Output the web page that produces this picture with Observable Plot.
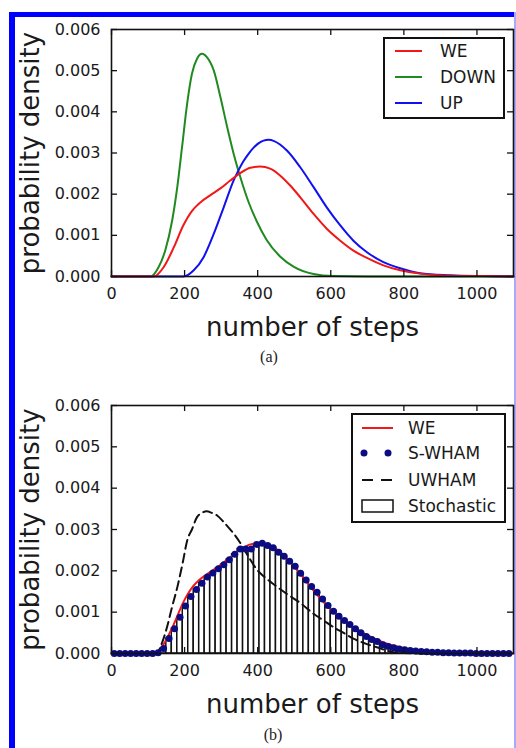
<!DOCTYPE html>
<html>
<head>
<meta charset="utf-8">
<script src="https://cdn.jsdelivr.net/npm/d3@7"></script>
<script src="https://cdn.jsdelivr.net/npm/@observablehq/plot@0.6"></script>
<style>
  body { margin: 0; background: #fff; }
  #page { position: relative; width: 516px; height: 748px; overflow: hidden; font-family: "DejaVu Sans", sans-serif; background: #fff; }
  .panel { position: absolute; left: 0; }
  .panel svg { overflow: visible; }
  [aria-label="x-axis label"], [aria-label="y-axis label"] { font-size: 26px; }
  .bar { position: absolute; background: #0000ff; }
  .legend { position: absolute; box-sizing: border-box; border: 2px solid #111; background: #fff; }
  .legend svg { position: absolute; left: -2px; top: -2px; overflow: visible; }
  .cap { position: absolute; font-family: "Liberation Serif", "DejaVu Serif", serif; font-size: 16px; color: #222; transform: translate(-50%, -50%); }
</style>
</head>
<body>
<div id="page">
  <div class="bar" style="left:9px;top:12px;width:507px;height:5px"></div>
  <div class="bar" style="left:9px;top:12px;width:6px;height:736px"></div>
  <div class="bar" style="left:514px;top:12px;width:2px;height:736px;background:#a8a8ff"></div>
  <div id="panelA" class="panel" style="top:0px"></div>
  <div id="panelB" class="panel" style="top:376px"></div>
  <div class="cap" style="left:269px;top:357px">(a)</div>
  <div class="cap" style="left:273px;top:735px">(b)</div>
</div>
<script>
// ---------- data ----------
const xTicks = [0, 200, 400, 600, 800, 1000];
const yTicks = [0, 0.001, 0.002, 0.003, 0.004, 0.005, 0.006];
const xLabel = "number of steps";
const yLabel = "probability density";

// panel (a)
const weSteps   = [0,100,116,143,170,197,220,232,243,270,298,325,352,380,407,434,462,489,516,553,589,626,662,699,744,790,844,926,1017,1100];
const weDensity = [0,0,0,0.00023,0.0007,0.00125,0.00159,0.00171,0.0018,0.00197,0.00214,0.00233,0.00251,0.00264,0.00267,0.00262,0.00245,0.00221,0.00193,0.00152,0.00116,0.00087,0.00063,0.00045,0.00027,0.00015,0.00007,0.00002,0.00001,0];

const downSteps   = [0,100,107,129,147,166,180,193,207,220,234,248,261,280,298,316,334,352,375,398,425,462,498,553,607,700,1100];
const downDensity = [0,0,0,0.00023,0.00063,0.00136,0.00217,0.00314,0.0042,0.00492,0.00529,0.00541,0.00533,0.005,0.00436,0.00365,0.00299,0.00243,0.00181,0.00133,0.00088,0.00048,0.00024,0.00006,0.00001,0,0];

const upSteps   = [0,190,197,225,252,280,307,334,348,361,375,389,403,416,430,445,480,516,553,589,626,662,699,744,790,844,926,1017,1100];
const upDensity = [0,0,0,0.00015,0.00047,0.00104,0.00168,0.00233,0.00259,0.0028,0.00298,0.00313,0.00324,0.0033,0.00332,0.00329,0.00306,0.00266,0.00217,0.00168,0.00124,0.00087,0.00059,0.00035,0.0002,0.00008,0.00003,0.00001,0];

// panel (b)
const uwhamSteps   = [0,110,122,140,152,165,180,195,207,220,234,247,260,275,289,305,321,337,352,375,398,420,440,480,520,553,580,607,635,662,695,726,762,800,900,1100];
const uwhamDensity = [0,0,0,0.0003,0.00064,0.0011,0.0016,0.0022,0.00273,0.0030,0.0033,0.0034,0.00344,0.0034,0.00334,0.0032,0.00304,0.00287,0.00268,0.00234,0.00203,0.00184,0.0017,0.00144,0.0012,0.00096,0.0008,0.00064,0.0005,0.00036,0.00024,0.00015,0.00005,0.00001,0,0];

const binStart = [0,15,30,45,60,75,90,105,120,135,150,165,180,195,210,225,240,255,270,285,300,315,330,345,360,375,390,405,420,435,450,465,480,495,510,525,540,555,570,585,600,615,630,645,660,675,690,705,720,735,750,765,780,795,810,825,840,855,870,885,900,915,930,945,960,975,990,1005,1020,1035,1050,1065,1080];
const binEnd   = [15,30,45,60,75,90,105,120,135,150,165,180,195,210,225,240,255,270,285,300,315,330,345,360,375,390,405,420,435,450,465,480,495,510,525,540,555,570,585,600,615,630,645,660,675,690,705,720,735,750,765,780,795,810,825,840,855,870,885,900,915,930,945,960,975,990,1005,1020,1035,1050,1065,1080,1095];
const stochastic = [0,0,0,0,0,0,0,0,0.00002,0.00012,0.00036,0.0006,0.00088,0.00115,0.00138,0.00155,0.0017,0.00185,0.00195,0.00205,0.00215,0.00227,0.0024,0.00253,0.00253,0.00253,0.00264,0.00267,0.00261,0.00256,0.00245,0.00235,0.00223,0.00211,0.00194,0.00178,0.00162,0.00148,0.00132,0.00116,0.00102,0.0009,0.0008,0.0007,0.0006,0.0005,0.00041,0.00034,0.00029,0.00021,0.00017,0.00014,0.00011,0.00009,0.00007,0.00006,0.00005,0.00004,0.00003,0.00003,0.00002,0.00002,0.00001,0.00001,0.00001,0.00001,0,0,0,0,0,0,0];
const swham = stochastic;

const seriesA = ["WE", "DOWN", "UP"];
const colorsA = ["#f01818", "#1f8a1f", "#1010f0"];
const seriesB = ["WE", "S-WHAM", "UWHAM", "Stochastic"];

// ---------- helpers ----------
const zip = (xs, ys) => xs.map((x, i) => ({x, y: ys[i]}));
const W = 516, H = 345, ML = 111, MR = 3, MT = 29, TICK = 6;

function axes(mb) {
  const fw = W - ML - MR, fh = H - MT - mb;
  return [
    Plot.ruleX(xTicks, {x: d => d, insetTop: fh - TICK, stroke: "#111", strokeWidth: 1.3}),
    Plot.ruleX(xTicks, {x: d => d, insetBottom: fh - TICK, stroke: "#111", strokeWidth: 1.3}),
    Plot.ruleY(yTicks, {y: d => d, insetRight: fw - TICK, stroke: "#111", strokeWidth: 1.3}),
    Plot.ruleY(yTicks, {y: d => d, insetLeft: fw - TICK, stroke: "#111", strokeWidth: 1.3}),
    Plot.frame({stroke: "#111", strokeWidth: 1.6}),
    Plot.axisX({anchor: "bottom", ticks: xTicks, tickSize: 0, tickPadding: 11, tickFormat: "d",
      label: xLabel, labelAnchor: "center", labelArrow: "none", labelOffset: 59}),
    Plot.axisY({anchor: "left", ticks: yTicks, tickSize: 0, tickPadding: 11, tickFormat: ".3f",
      label: yLabel, labelAnchor: "center", labelArrow: "none", labelOffset: 91})
  ];
}

const common = {
  width: W, height: H, marginTop: MT, marginLeft: ML, marginRight: MR,
  style: {fontFamily: "DejaVu Sans", fontSize: "16px", color: "#1a1a1a", background: "transparent"},
  x: {domain: [0, 1100]},
  y: {domain: [0, 0.006]}
};

// ---------- panel (a) ----------
const plotA = Plot.plot({
  ...common,
  marginBottom: 69,
  marks: [
    Plot.line(zip(downSteps, downDensity), {x: "x", y: "y", stroke: colorsA[1], strokeWidth: 2, curve: "monotone-x"}),
    Plot.line(zip(upSteps, upDensity), {x: "x", y: "y", stroke: colorsA[2], strokeWidth: 2, curve: "monotone-x"}),
    Plot.line(zip(weSteps, weDensity), {x: "x", y: "y", stroke: colorsA[0], strokeWidth: 2, curve: "monotone-x"}),
    ...axes(69)
  ]
});
document.getElementById("panelA").appendChild(plotA);

// ---------- panel (b) ----------
const bins = binStart.map((s, i) => ({x1: s, x2: binEnd[i], y: stochastic[i], xc: (s + binEnd[i]) / 2, s: swham[i]}));
const plotB = Plot.plot({
  ...common,
  marginBottom: 68,
  marks: [
    Plot.rectY(bins.filter(d => d.y > 0), {x1: "x1", x2: "x2", y: "y", fill: "white", stroke: "#111", strokeWidth: 1.5}),
    Plot.line(zip(weSteps, weDensity), {x: "x", y: "y", stroke: "#f01818", strokeWidth: 2, curve: "monotone-x"}),
    Plot.line(zip(uwhamSteps, uwhamDensity), {x: "x", y: "y", stroke: "#111", strokeWidth: 2, strokeDasharray: "9,5", curve: "monotone-x"}),
    Plot.dot(bins, {x: "xc", y: "s", r: 3.5, fill: "#0c0c82", stroke: "none"}),
    ...axes(68)
  ]
});
document.getElementById("panelB").appendChild(plotB);

// ---------- legends ----------
const NS = "http://www.w3.org/2000/svg";
function el(tag, attrs, parent) {
  const e = document.createElementNS(NS, tag);
  for (const k in attrs) e.setAttribute(k, attrs[k]);
  parent.appendChild(e);
  return e;
}
function legend(left, top, w, h, rows, draw) {
  const div = document.createElement("div");
  div.className = "legend";
  Object.assign(div.style, {left: left + "px", top: top + "px", width: w + "px", height: h + "px"});
  const svg = el("svg", {width: w, height: h}, div);
  rows.forEach((r, i) => draw(svg, r, i));
  document.getElementById("page").appendChild(div);
}

// legend (a)
legend(383, 37, 122, 82, seriesA, (svg, name, i) => {
  const y = 14 + i * 26;
  el("line", {x1: 12, x2: 39, y1: y, y2: y, stroke: colorsA[i], "stroke-width": 2}, svg);
  const t = el("text", {x: 57, y: y, "dominant-baseline": "central", "font-family": "DejaVu Sans", "font-size": 17, fill: "#1a1a1a"}, svg);
  t.textContent = name;
});

// legend (b)
legend(351, 413, 155, 110, seriesB, (svg, name, i) => {
  const y = [15, 40, 67, 93][i];
  if (i === 0) el("line", {x1: 11, x2: 42, y1: y, y2: y, stroke: "#f01818", "stroke-width": 2}, svg);
  if (i === 1) { el("circle", {cx: 13, cy: y, r: 3.5, fill: "#0c0c82"}, svg); el("circle", {cx: 37, cy: y, r: 3.5, fill: "#0c0c82"}, svg); }
  if (i === 2) el("line", {x1: 11, x2: 42, y1: y, y2: y, stroke: "#111", "stroke-width": 2, "stroke-dasharray": "11,8"}, svg);
  if (i === 3) el("rect", {x: 11, y: y - 6, width: 31, height: 12, fill: "white", stroke: "#111", "stroke-width": 1.5}, svg);
  const t = el("text", {x: 57, y: y, "dominant-baseline": "central", "font-family": "DejaVu Sans", "font-size": 17, fill: "#1a1a1a"}, svg);
  t.textContent = name;
});
</script>
</body>
</html>
